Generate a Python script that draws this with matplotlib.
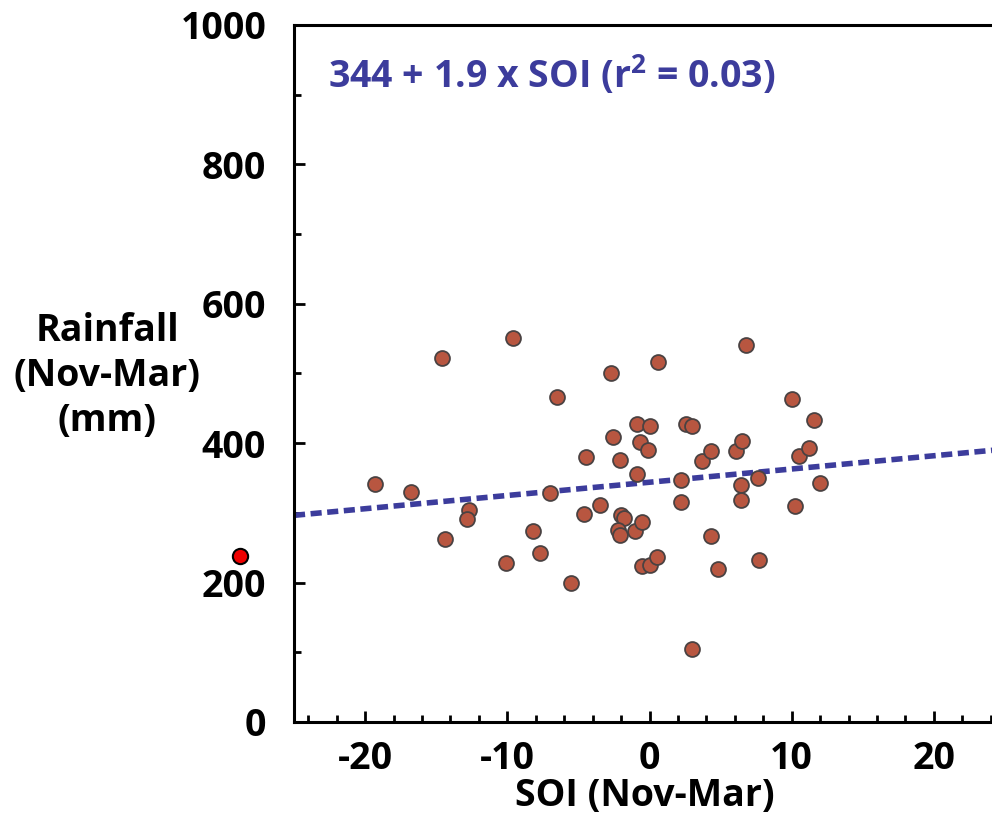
import matplotlib
matplotlib.use("Agg")
from matplotlib import pyplot as plt
from matplotlib.ticker import MultipleLocator
import numpy as np

# SOI (Nov-Mar) vs rainfall (Nov-Mar)
soi = [-19.3, -16.8, -14.6, -14.4, -12.7, -12.8, -9.6, -10.1, -8.2, -7.7,
       -7.0, -6.5, -5.5, -4.5, -4.6, -3.5, -2.7, -2.6, -2.1, -2.0,
       -1.8, -2.2, -2.1, -1.0, -0.9, -0.9, -0.7, 0.0, -0.1, -0.5,
       -0.5, 0.0, 0.5, 0.6, 2.6, 3.0, 2.2, 2.2, 3.0, 3.7,
       4.3, 4.3, 4.8, 6.1, 6.5, 6.4, 6.4, 6.8, 7.6, 7.7,
       10.0, 10.2, 10.5, 11.2, 11.6, 12.0]
rain = [341, 330, 522, 263, 304, 291, 551, 228, 274, 242,
        329, 466, 199, 380, 298, 311, 500, 409, 376, 297,
        293, 275, 269, 274, 428, 356, 402, 425, 390, 287,
        224, 225, 237, 516, 428, 425, 347, 316, 105, 374,
        389, 267, 220, 389, 403, 340, 318, 541, 350, 233,
        463, 310, 382, 393, 433, 343]

intercept, slope = 344, 1.9
eq_label = "344 + 1.9 x SOI (r$^{\\mathregular{2}}$ = 0.03)"

# red pointer dot outside the axes
pointer = (-28.8, 238)

plt.rcParams["font.family"] = ["Open Sans", "DejaVu Sans"]
plt.rcParams["font.weight"] = "bold"
plt.rcParams["axes.unicode_minus"] = False

FS = 27

fig = plt.figure(figsize=(9.92, 8.15), dpi=100)
ax = fig.add_axes([294 / 992, 1 - 722 / 815, (1005 - 294) / 992, (722 - 25) / 815])

xs = np.array([-25, 25])
ax.plot(xs, intercept + slope * xs, color="#3c3c9c", lw=4, ls=(0, (2, 1)), zorder=2)
ax.scatter(soi, rain, s=115, color="#b85640", edgecolor="#4a4242", linewidth=1.3, zorder=3)
ax.plot(*pointer, "o", ms=11, color="#ee0000", mec="black", mew=1.5, clip_on=False, zorder=4)

ax.set_xlim(-25, 25)
ax.set_ylim(0, 1000)
ax.xaxis.set_major_locator(MultipleLocator(10))
ax.xaxis.set_minor_locator(MultipleLocator(2))
ax.yaxis.set_major_locator(MultipleLocator(200))
ax.yaxis.set_minor_locator(MultipleLocator(100))
ax.tick_params(which="both", direction="in", width=2, labelsize=FS, top=False, right=False)
ax.tick_params(which="major", length=8)
ax.tick_params(which="minor", length=5)
ax.tick_params(axis="y", pad=20)
ax.tick_params(axis="x", pad=13)
ax.set_xticks([-20, -10, 0, 10, 20])
for sp in ax.spines.values():
    sp.set_linewidth(2.2)

ax.text(-22.6, 928, eq_label, color="#3c3c9c", fontsize=FS, fontweight="bold", va="center")

fig.text(107 / 992, 1 - 376 / 815, "Rainfall\n(Nov-Mar)\n(mm)", ha="center", va="center",
         fontsize=FS, fontweight="bold", linespacing=1.25)
fig.text(645 / 992, 1 - 796 / 815, "SOI (Nov-Mar)", ha="center", va="center",
         fontsize=FS, fontweight="bold")

fig.savefig("out.png", dpi=100)
